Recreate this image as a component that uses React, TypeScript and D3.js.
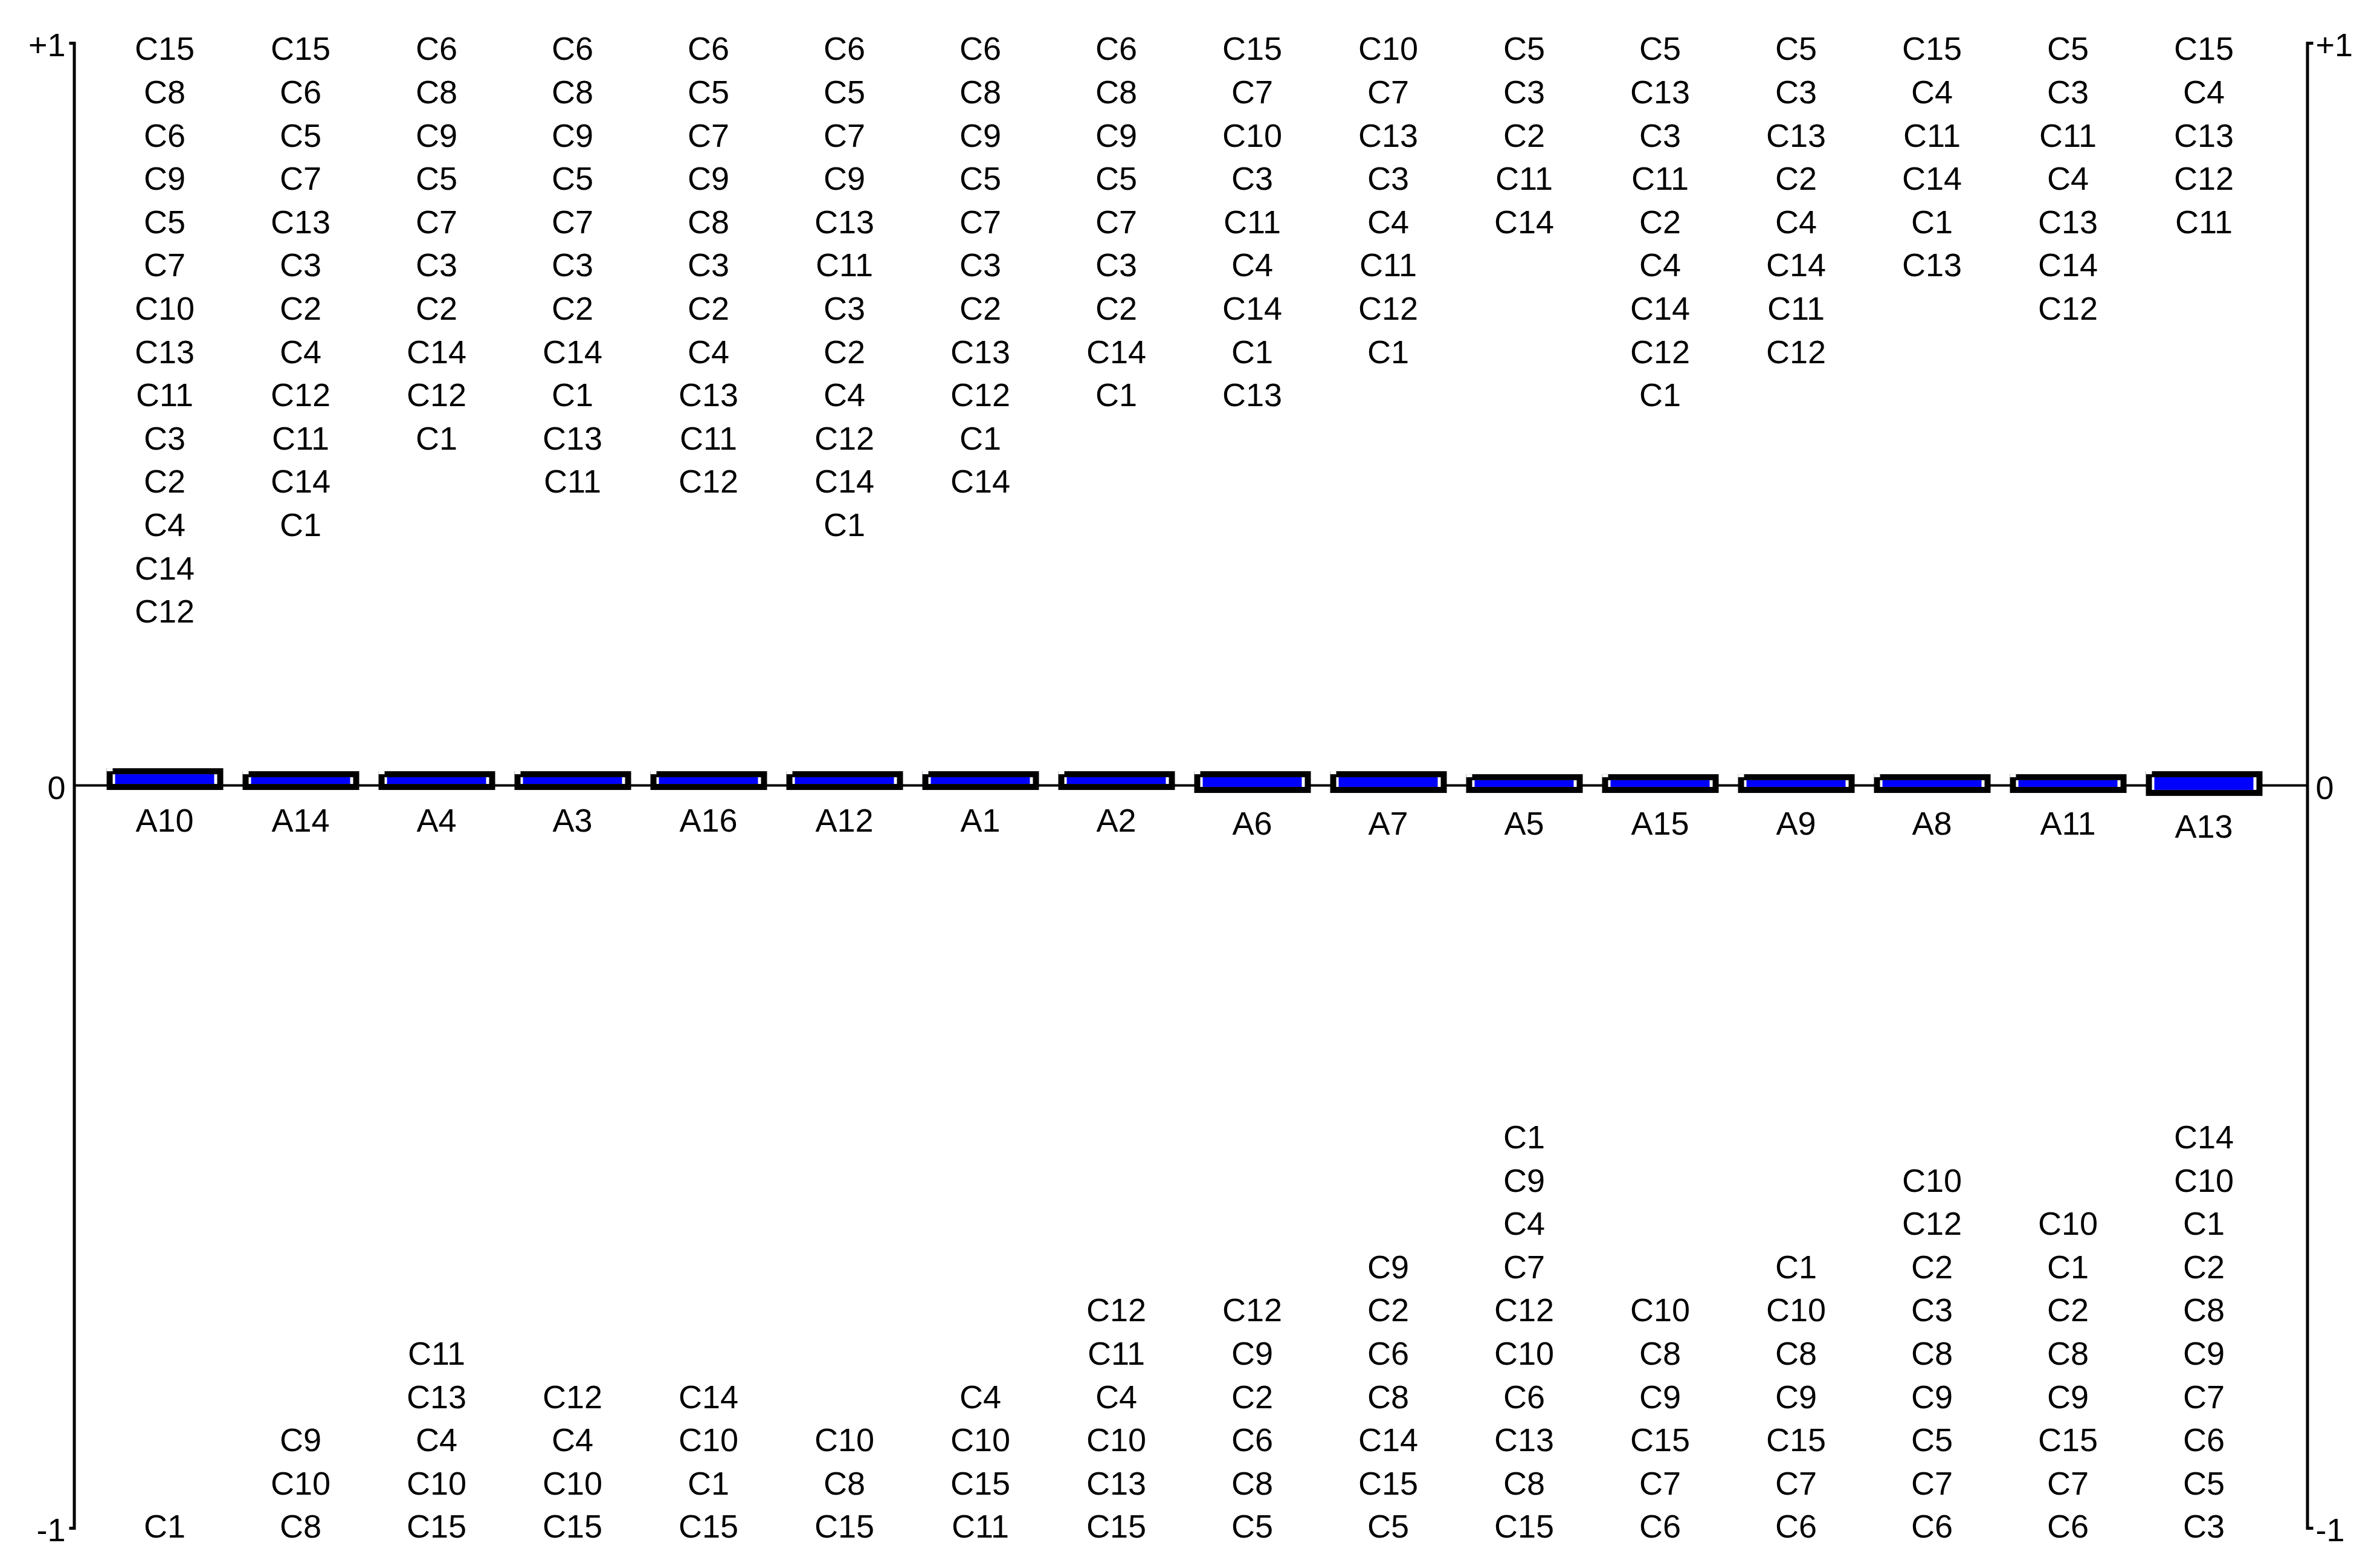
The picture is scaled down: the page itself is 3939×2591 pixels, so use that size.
import React, { useEffect, useRef } from "react";
import * as d3 from "d3";

// alternatives, in ranking order (left to right)
const alternatives = [
  "A10", "A14", "A4", "A3", "A16", "A12", "A1", "A2",
  "A6", "A7", "A5", "A15", "A9", "A8", "A11", "A13",
];

// upper / lower end of each flow bar (net flow scale, -1..+1)
const flowUpper = [
  0.015, 0.011, 0.011, 0.011, 0.011, 0.011, 0.011, 0.011,
  0.011, 0.011, 0.007, 0.007, 0.007, 0.007, 0.007, 0.011,
];
const flowLower = [
  0.002, 0.002, 0.002, 0.002, 0.002, 0.002, 0.002, 0.002,
  -0.002, -0.002, -0.002, -0.002, -0.002, -0.002, -0.002, -0.006,
];

// criteria with positive contribution (listed from the top down)
const positiveCriteria = [
  ["C15", "C8", "C6", "C9", "C5", "C7", "C10", "C13", "C11", "C3", "C2", "C4", "C14", "C12"],
  ["C15", "C6", "C5", "C7", "C13", "C3", "C2", "C4", "C12", "C11", "C14", "C1"],
  ["C6", "C8", "C9", "C5", "C7", "C3", "C2", "C14", "C12", "C1"],
  ["C6", "C8", "C9", "C5", "C7", "C3", "C2", "C14", "C1", "C13", "C11"],
  ["C6", "C5", "C7", "C9", "C8", "C3", "C2", "C4", "C13", "C11", "C12"],
  ["C6", "C5", "C7", "C9", "C13", "C11", "C3", "C2", "C4", "C12", "C14", "C1"],
  ["C6", "C8", "C9", "C5", "C7", "C3", "C2", "C13", "C12", "C1", "C14"],
  ["C6", "C8", "C9", "C5", "C7", "C3", "C2", "C14", "C1"],
  ["C15", "C7", "C10", "C3", "C11", "C4", "C14", "C1", "C13"],
  ["C10", "C7", "C13", "C3", "C4", "C11", "C12", "C1"],
  ["C5", "C3", "C2", "C11", "C14"],
  ["C5", "C13", "C3", "C11", "C2", "C4", "C14", "C12", "C1"],
  ["C5", "C3", "C13", "C2", "C4", "C14", "C11", "C12"],
  ["C15", "C4", "C11", "C14", "C1", "C13"],
  ["C5", "C3", "C11", "C4", "C13", "C14", "C12"],
  ["C15", "C4", "C13", "C12", "C11"],
];

// criteria with negative contribution (listed from the top down, stacked on -1)
const negativeCriteria = [
  ["C1"],
  ["C9", "C10", "C8"],
  ["C11", "C13", "C4", "C10", "C15"],
  ["C12", "C4", "C10", "C15"],
  ["C14", "C10", "C1", "C15"],
  ["C10", "C8", "C15"],
  ["C4", "C10", "C15", "C11"],
  ["C12", "C11", "C4", "C10", "C13", "C15"],
  ["C12", "C9", "C2", "C6", "C8", "C5"],
  ["C9", "C2", "C6", "C8", "C14", "C15", "C5"],
  ["C1", "C9", "C4", "C7", "C12", "C10", "C6", "C13", "C8", "C15"],
  ["C10", "C8", "C9", "C15", "C7", "C6"],
  ["C1", "C10", "C8", "C9", "C15", "C7", "C6"],
  ["C10", "C12", "C2", "C3", "C8", "C9", "C5", "C7", "C6"],
  ["C10", "C1", "C2", "C8", "C9", "C15", "C7", "C6"],
  ["C14", "C10", "C1", "C2", "C8", "C9", "C7", "C6", "C5", "C3"],
];

const yTicks = [-1, 0, 1];
const yTickLabels = ["-1", "0", "+1"];

const W = 3939;
const H = 2591;
const FONT = "'Liberation Sans', Arial, sans-serif";

export default function App() {
  const ref = useRef<SVGSVGElement>(null);

  useEffect(() => {
    const svg = d3.select(ref.current);
    svg.selectAll("*").remove();

    const axisLeftX = 122.5;
    const axisRightX = 3818.5;

    const x = d3.scaleBand().domain(alternatives).range([160, 3760]).padding(0);
    const y = d3.scaleLinear().domain([-1, 1]).range([2528, 71]);
    const rowStep = 71.6;

    svg.append("rect").attr("width", W).attr("height", H).attr("fill", "#fff");

    // zero line
    svg
      .append("line")
      .attr("x1", axisLeftX)
      .attr("x2", axisRightX)
      .attr("y1", y(0))
      .attr("y2", y(0))
      .attr("stroke", "#000")
      .attr("stroke-width", 4);

    // axes on both sides
    const fmt = (d: d3.NumberValue) => yTickLabels[yTicks.indexOf(+d)];
    const left = svg
      .append("g")
      .attr("transform", `translate(${axisLeftX},0)`)
      .call(
        d3.axisLeft(y).tickValues(yTicks).tickSizeInner(0).tickSizeOuter(8).tickPadding(14).tickFormat(fmt)
      );
    const right = svg
      .append("g")
      .attr("transform", `translate(${axisRightX},0)`)
      .call(
        d3.axisRight(y).tickValues(yTicks).tickSizeInner(0).tickSizeOuter(10).tickPadding(14).tickFormat(fmt)
      );
    [left, right].forEach((g) => {
      g.select(".domain").attr("stroke", "#000").attr("stroke-width", 5).attr("fill", "none");
      g.selectAll("text")
        .attr("font-family", FONT)
        .attr("font-size", 54)
        .attr("fill", "#000")
        .attr("dy", "0.4em");
    });

    // flow bars
    const bars = svg
      .append("g")
      .selectAll("g")
      .data(alternatives)
      .enter()
      .append("g");

    const cx = (d: string) => (x(d) as number) + x.bandwidth() / 2;
    const top = (_: string, i: number) => y(flowUpper[i]);
    const bot = (_: string, i: number) => y(flowLower[i]);

    bars
      .append("rect")
      .attr("x", (d) => cx(d) - 96)
      .attr("y", (d, i) => top(d, i) - 10)
      .attr("width", 193)
      .attr("height", (d, i) => bot(d, i) - top(d, i) + 20)
      .attr("fill", "#000");
    bars
      .append("rect")
      .attr("x", (d) => cx(d) - 96)
      .attr("y", (d, i) => top(d, i) - 10)
      .attr("width", 10)
      .attr("height", 5)
      .attr("fill", "#fff");
    bars
      .append("rect")
      .attr("x", (d) => cx(d) - 86)
      .attr("y", (d, i) => top(d, i))
      .attr("width", 173)
      .attr("height", (d, i) => bot(d, i) - top(d, i))
      .attr("fill", "#fff");
    bars
      .append("rect")
      .attr("x", (d) => cx(d) - 82)
      .attr("y", (d, i) => top(d, i))
      .attr("width", 164)
      .attr("height", (d, i) => bot(d, i) - top(d, i))
      .attr("fill", "#0000ff");

    // alternative names under the bars
    bars
      .append("text")
      .attr("x", (d) => cx(d))
      .attr("y", (d, i) => bot(d, i) + 10 + 50)
      .attr("dy", "0.36em")
      .attr("text-anchor", "middle")
      .attr("font-family", FONT)
      .attr("font-size", 54)
      .attr("fill", "#000")
      .text((d) => d);

    // criteria labels above (from +1 down) and below (stacked on -1)
    alternatives.forEach((a, i) => {
      const g = svg.append("g");
      positiveCriteria[i].forEach((c, k) => {
        g.append("text")
          .attr("x", cx(a))
          .attr("y", y(1) + 9 + k * rowStep)
          .attr("dy", "0.36em")
          .attr("text-anchor", "middle")
          .attr("font-family", FONT)
          .attr("font-size", 54)
          .attr("fill", "#000")
          .text(c);
      });
      const n = negativeCriteria[i].length;
      negativeCriteria[i].forEach((c, k) => {
        g.append("text")
          .attr("x", cx(a))
          .attr("y", y(-1) - 3 - (n - 1 - k) * rowStep)
          .attr("dy", "0.36em")
          .attr("text-anchor", "middle")
          .attr("font-family", FONT)
          .attr("font-size", 54)
          .attr("fill", "#000")
          .text(c);
      });
    });
  }, []);

  return (
    <div style={{ position: "absolute", left: 0, top: 0 }}>
      <svg ref={ref} width={W} height={H} style={{ display: "block" }} />
    </div>
  );
}
